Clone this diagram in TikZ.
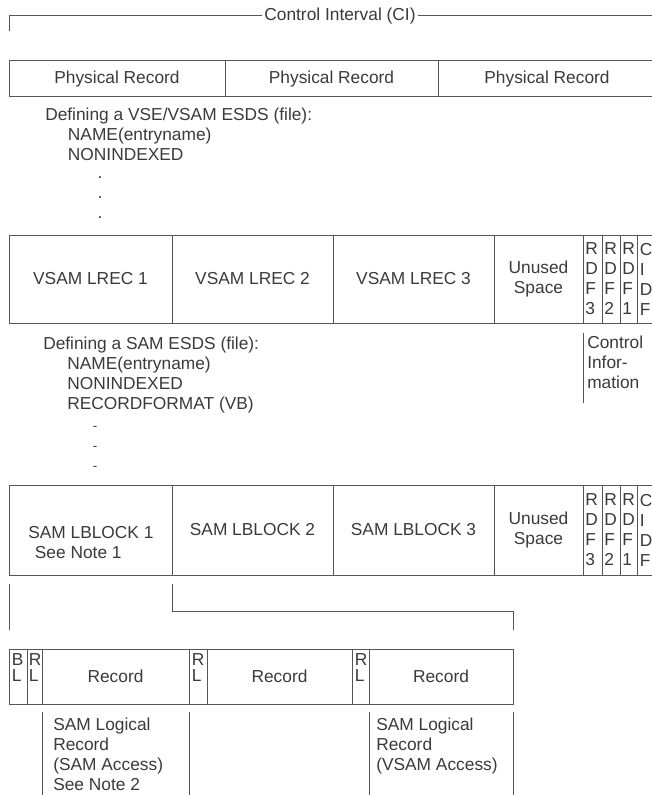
\documentclass[tikz,border=0pt]{standalone}
\usepackage{fontspec}
\setmainfont{Liberation Sans}
\definecolor{lc}{HTML}{555555}
\definecolor{tc}{HTML}{3a3a3a}
\newcommand{\dgfont}{\fontsize{13}{15}\selectfont}
\newcommand{\dgtight}{\fontsize{13}{12}\selectfont}
\newcommand{\cellat}[6][]{\node[cell,minimum width={(#5-#3)*0.75pt},minimum height={(#6-#4)*0.75pt},#1] (#2) at ({(#3+#5)/2},{(#4+#6)/2})}
\begin{document}
\begin{tikzpicture}[x=0.75pt,y=-0.75pt,
  cell/.style={draw=lc,line width=0.75pt,inner sep=0pt,text=tc,font=\dgfont,align=center},
  narrow/.style={align=left,text width=#1},
  txt/.style={inner sep=0pt,text=tc,font=\dgfont,align=left},
  tight/.style={inner sep=0pt,text=tc,font=\dgtight,align=left},
  ln/.style={draw=lc,line width=0.75pt}]
\useasboundingbox (0,0) rectangle (652,795);

% Control interval bracket
\coordinate (cil) at (9,31);
\coordinate (cir) at (652,16);
\draw[ln] (cil) |- (cir);
\node[txt,fill=white,inner xsep=1.5pt,inner ysep=2pt] (ci) at (340,16) {Control Interval (CI)};

% Physical records
\cellat{pr1}{9}{61}{225}{97} {Physical Record};
\cellat{pr2}{225}{61}{438}{97} {Physical Record};
\cellat{pr3}{438}{61}{656}{97} {Physical Record};

% VSE/VSAM definition
\node[txt,anchor=north west] (def1) at (45,108) {Defining a VSE/VSAM ESDS (file):\\\hspace*{17pt}NAME(entryname)\\\hspace*{17pt}NONINDEXED};
\node[txt] (d1) at (100,178) {.};
\node[txt] (d2) at (100,198) {.};
\node[txt] (d3) at (100,218) {.};

% VSAM row
\cellat{v1}{9}{235}{172}{323} {VSAM LREC 1};
\cellat{v2}{172}{235}{333}{323} {VSAM LREC 2};
\cellat{v3}{333}{235}{494}{323} {VSAM LREC 3};
\cellat{vu}{494}{235}{583}{323} {Unused\\Space};
\cellat[narrow=10.75pt]{vr3}{583}{235}{602}{323} {R\\D\\F\\3};
\cellat[narrow=10pt]{vr2}{602}{235}{620}{323} {R\\D\\F\\2};
\cellat[narrow=9.25pt]{vr1}{620}{235}{637}{323} {R\\D\\F\\1};
\cellat[narrow=10pt]{vcd}{637}{235}{656}{323} {C\\I\\D\\F};

% Control information
\coordinate (cit) at (583,333);
\coordinate (cib) at (583,403);
\draw[ln] (cit) -- (cib);
\node[txt,anchor=north west] (cinfo) at (587,336) {Control\\Infor-\\mation};

% SAM definition
\node[txt,anchor=north west] (def2) at (43,337) {Defining a SAM ESDS (file):\\\hspace*{18pt}NAME(entryname)\\\hspace*{18pt}NONINDEXED\\\hspace*{18pt}RECORDFORMAT (VB)};
\node[txt,font=\fontsize{10}{10}\selectfont] (e1) at (95,428) {-};
\node[txt,font=\fontsize{10}{10}\selectfont] (e2) at (95,448) {-};
\node[txt,font=\fontsize{10}{10}\selectfont] (e3) at (95,468) {-};

% SAM row
\cellat{s1}{9}{485}{172}{575} {};
\node[txt,anchor=north west] (s1t) at (28,526) {SAM LBLOCK 1\\\hspace*{5pt}See Note 1};
\cellat{s2}{172}{485}{333}{575} {SAM LBLOCK 2};
\cellat{s3}{333}{485}{494}{575} {SAM LBLOCK 3};
\cellat{su}{494}{485}{583}{575} {Unused\\Space};
\cellat[narrow=10.75pt]{sr3}{583}{485}{602}{575} {R\\D\\F\\3};
\cellat[narrow=10pt]{sr2}{602}{485}{620}{575} {R\\D\\F\\2};
\cellat[narrow=9.25pt]{sr1}{620}{485}{637}{575} {R\\D\\F\\1};
\cellat[narrow=10pt]{scd}{637}{485}{656}{575} {C\\I\\D\\F};

% Connectors
\coordinate (k1a) at (9,584);
\coordinate (k1b) at (9,630);
\draw[ln] (k1a) -- (k1b);
\coordinate (k2a) at (172,584);
\coordinate (k2b) at (513,630);
\draw[ln] (k2a) -- ++(0,27) -| (k2b);

% Record row
\cellat{bl}{9}{649}{27}{704} {};
\cellat{rl1}{27}{649}{42}{704} {};
\cellat{rec1}{42}{649}{189}{704} {Record};
\cellat{rl2}{189}{649}{207}{704} {};
\cellat{rec2}{207}{649}{352}{704} {Record};
\cellat{rl3}{352}{649}{369}{704} {};
\cellat{rec3}{369}{649}{513}{704} {Record};
\node[tight,anchor=north west] (blt) at (11.5,653) {B\\L};
\node[tight,anchor=north west] (rl1t) at (28.5,653) {R\\L};
\node[tight,anchor=north west] (rl2t) at (191.5,653) {R\\L};
\node[tight,anchor=north west] (rl3t) at (354.5,653) {R\\L};

% Lines below records
\coordinate (b1t) at (42,712);  \coordinate (b1b) at (42,795);
\coordinate (b2t) at (189,712); \coordinate (b2b) at (189,795);
\coordinate (b3t) at (369,712); \coordinate (b3b) at (369,795);
\coordinate (b4t) at (513,712); \coordinate (b4b) at (513,795);
\draw[ln] (b1t) -- (b1b);
\draw[ln] (b2t) -- (b2b);
\draw[ln] (b3t) -- (b3b);
\draw[ln] (b4t) -- (b4b);

\node[txt,anchor=north west] (sl1) at (53,718) {SAM Logical\\Record\\(SAM Access)\\See Note 2};
\node[txt,anchor=north west] (sl2) at (376,718) {SAM Logical\\Record\\(VSAM Access)};
\end{tikzpicture}
\end{document}
